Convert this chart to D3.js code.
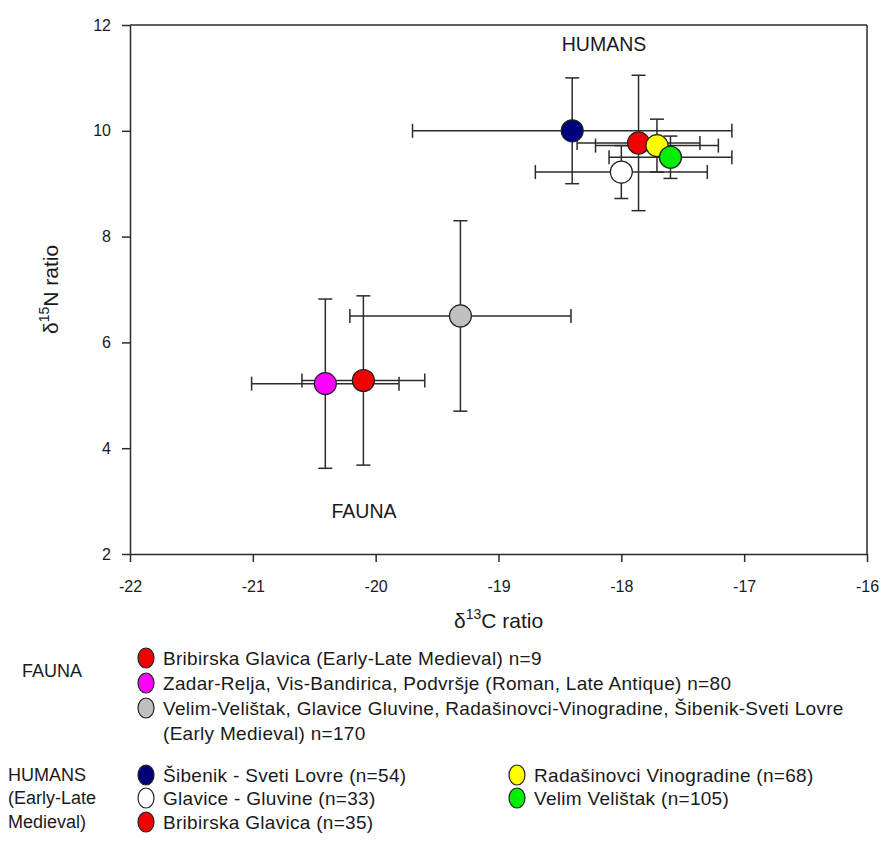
<!DOCTYPE html>
<html>
<head>
<meta charset="utf-8">
<script src="https://cdnjs.cloudflare.com/ajax/libs/d3/7.8.5/d3.min.js"></script>
<style>
  html, body { margin: 0; padding: 0; background: #fff; }
  svg text { font-family: "Liberation Sans", Arial, Helvetica, sans-serif; fill: #1a1a1a; }
</style>
</head>
<body>
<svg id="chart" width="882" height="842"></svg>
<script>
// Stable isotope means (δ13C, δ15N) with standard deviations
const groups      = ["fauna", "fauna", "fauna", "humans", "humans", "humans", "humans", "humans"];
const siteNames   = ["Bribirska Glavica fauna", "Zadar-Relja / Vis-Bandirica / Podvršje", "Velim-Velištak et al. fauna",
                     "Glavice - Gluvine", "Šibenik - Sveti Lovre", "Bribirska Glavica", "Radašinovci Vinogradine", "Velim Velištak"];
const carbonMean  = [-20.10, -20.41, -19.31, -18.00, -18.40, -17.86, -17.71, -17.60];
const carbonSD    = [0.50, 0.60, 0.90, 0.70, 1.30, 0.50, 0.50, 0.50];
const nitrogenMean= [5.28, 5.22, 6.50, 9.22, 10.00, 9.77, 9.72, 9.50];
const nitrogenSD  = [1.60, 1.60, 1.80, 0.50, 1.00, 1.28, 0.50, 0.40];
const fillColors  = ["#f00000", "#ff00ff", "#c0c0c0", "#ffffff", "#00007a", "#f00000", "#ffff00", "#00ee00"];

const xTicks = [-22, -21, -20, -19, -18, -17, -16];
const yTicks = [2, 4, 6, 8, 10, 12];

// Legend entries
const faunaLegendText  = ["Bribirska Glavica (Early-Late Medieval) n=9",
                          "Zadar-Relja, Vis-Bandirica, Podvršje (Roman, Late Antique) n=80",
                          "Velim-Velištak, Glavice Gluvine, Radašinovci-Vinogradine, Šibenik-Sveti Lovre"];
const faunaLegendExtra = "(Early Medieval) n=170";
const faunaLegendColor = ["#f00000", "#ff00ff", "#c0c0c0"];
const humanLegendText  = ["Šibenik - Sveti Lovre (n=54)", "Glavice - Gluvine (n=33)", "Bribirska Glavica (n=35)",
                          "Radašinovci Vinogradine (n=68)", "Velim Velištak (n=105)"];
const humanLegendColor = ["#00007a", "#ffffff", "#f00000", "#ffff00", "#00ee00"];
const humanGroupLabel  = ["HUMANS", "(Early-Late", "Medieval)"];

const svg = d3.select("#chart");
const plot = { left: 130, right: 867, top: 25, bottom: 554 };
const ink = "#2b2b2b";

const x = d3.scaleLinear().domain([-22, -16]).range([plot.left, plot.right]);
const y = d3.scaleLinear().domain([2, 12]).range([plot.bottom, plot.top]);

// frame: top and right edges
svg.append("line").attr("x1", plot.left).attr("x2", plot.right).attr("y1", plot.top).attr("y2", plot.top)
  .attr("stroke", ink).attr("stroke-width", 1.5);
svg.append("line").attr("x1", plot.right).attr("x2", plot.right).attr("y1", plot.top).attr("y2", plot.bottom)
  .attr("stroke", ink).attr("stroke-width", 1.5);

const xAxis = svg.append("g").attr("transform", `translate(0,${plot.bottom})`)
  .call(d3.axisBottom(x).tickValues(xTicks).tickSize(8).tickSizeOuter(0).tickPadding(19).tickFormat(d3.format("d")));
const yAxis = svg.append("g").attr("transform", `translate(${plot.left},0)`)
  .call(d3.axisLeft(y).tickValues(yTicks).tickSize(8).tickSizeOuter(0).tickPadding(11).tickFormat(d3.format("d")));
[xAxis, yAxis].forEach(g => {
  g.select(".domain").attr("stroke", ink).attr("stroke-width", 1.5);
  g.selectAll(".tick line").attr("stroke", ink).attr("stroke-width", 1.5);
  g.selectAll(".tick text").attr("font-size", 16).attr("fill", "#1a1a1a")
    .style("font-family", '"Liberation Sans", Arial, sans-serif');
});
// minus sign drawn as a plain hyphen
xAxis.selectAll(".tick text").text(d => String(d).replace("−", "-"));

// axis titles
const xt = svg.append("text").attr("x", (plot.left + plot.right) / 2).attr("y", 628)
  .attr("text-anchor", "middle").attr("font-size", 21);
xt.append("tspan").text("δ");
xt.append("tspan").attr("font-size", 14).attr("dy", -9).text("13");
xt.append("tspan").attr("dy", 9).text("C ratio");

const yt = svg.append("text").attr("transform", `translate(58,${(plot.top + plot.bottom) / 2}) rotate(-90)`)
  .attr("text-anchor", "middle").attr("font-size", 21);
yt.append("tspan").text("δ");
yt.append("tspan").attr("font-size", 14).attr("dy", -9).text("15");
yt.append("tspan").attr("dy", 9).text("N ratio");

// group annotations inside the plot
svg.append("text").attr("x", 604).attr("y", 51).attr("text-anchor", "middle").attr("font-size", 19.5).text("HUMANS");
svg.append("text").attr("x", 364).attr("y", 518).attr("text-anchor", "middle").attr("font-size", 19.5).text("FAUNA");

// error bars
const cap = 7;
const idx = d3.range(carbonMean.length);
const bars = svg.append("g").attr("stroke", ink).attr("stroke-width", 1.5).attr("fill", "none");
idx.forEach(i => {
  const cx = x(carbonMean[i]), cy = y(nitrogenMean[i]);
  const x0 = x(carbonMean[i] - carbonSD[i]), x1 = x(carbonMean[i] + carbonSD[i]);
  const y0 = y(nitrogenMean[i] - nitrogenSD[i]), y1 = y(nitrogenMean[i] + nitrogenSD[i]);
  const g = bars.append("g");
  g.append("line").attr("x1", x0).attr("x2", x1).attr("y1", cy).attr("y2", cy);
  g.append("line").attr("x1", x0).attr("x2", x0).attr("y1", cy - cap).attr("y2", cy + cap);
  g.append("line").attr("x1", x1).attr("x2", x1).attr("y1", cy - cap).attr("y2", cy + cap);
  g.append("line").attr("x1", cx).attr("x2", cx).attr("y1", y0).attr("y2", y1);
  g.append("line").attr("x1", cx - cap).attr("x2", cx + cap).attr("y1", y0).attr("y2", y0);
  g.append("line").attr("x1", cx - cap).attr("x2", cx + cap).attr("y1", y1).attr("y2", y1);
});

// symbols
svg.append("g").selectAll("circle").data(idx).join("circle")
  .attr("cx", i => x(carbonMean[i])).attr("cy", i => y(nitrogenMean[i])).attr("r", 11)
  .attr("fill", i => fillColors[i]).attr("stroke", "#222").attr("stroke-width", 1.2);

// legend
const lg = svg.append("g").attr("font-size", 19).attr("letter-spacing", 0.3);
lg.append("text").attr("x", 22).attr("y", 677).attr("letter-spacing", 0).attr("font-size", 18).text("FAUNA");
const faunaRows = [658, 683, 708];
faunaLegendText.forEach((t, i) => {
  lg.append("ellipse").attr("cx", 146).attr("cy", faunaRows[i]).attr("rx", 8).attr("ry", 10)
    .attr("fill", faunaLegendColor[i]).attr("stroke", "#222").attr("stroke-width", 1.2);
  lg.append("text").attr("x", 163).attr("y", faunaRows[i]).attr("dy", "0.35em").text(t);
});
lg.append("text").attr("x", 163).attr("y", 733).attr("dy", "0.35em").text(faunaLegendExtra);

const humanRows = [775, 798, 822];
humanGroupLabel.forEach((t, i) => {
  lg.append("text").attr("x", 8).attr("y", humanRows[i]).attr("dy", "0.35em").attr("letter-spacing", 0)
    .attr("font-size", 18).text(t);
});
humanLegendText.forEach((t, i) => {
  const col = i < 3 ? 0 : 1, row = i < 3 ? i : i - 3;
  const mx = col === 0 ? 146 : 517;
  lg.append("ellipse").attr("cx", mx).attr("cy", humanRows[row]).attr("rx", 8).attr("ry", 10)
    .attr("fill", humanLegendColor[i]).attr("stroke", "#222").attr("stroke-width", 1.2);
  lg.append("text").attr("x", mx + 17).attr("y", humanRows[row]).attr("dy", "0.35em").text(t);
});
</script>
</body>
</html>
